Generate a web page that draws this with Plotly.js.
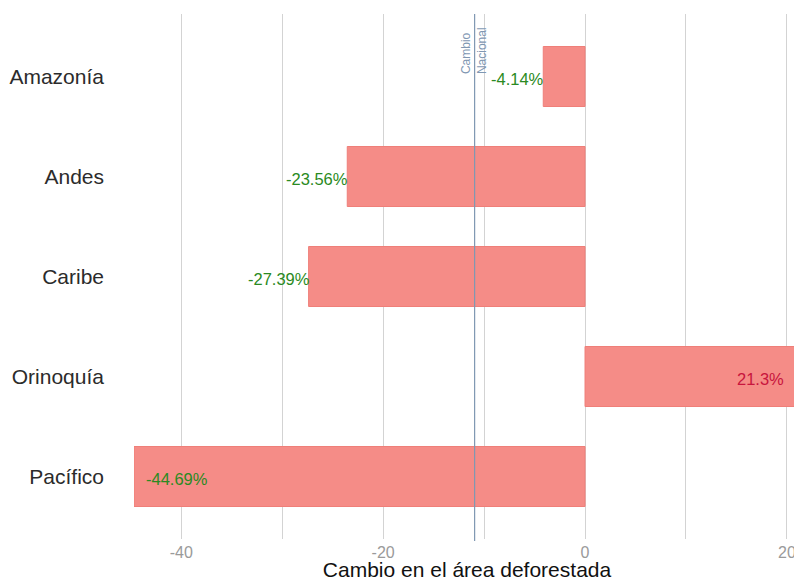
<!DOCTYPE html>
<html>
<head>
<meta charset="utf-8">
<script src="https://cdn.plot.ly/plotly-3.0.1.min.js"></script>
<style>
  html, body { margin: 0; padding: 0; overflow: hidden; background: #fff; }
  #chart { width: 800px; height: 581px; }
</style>
</head>
<body>
<div id="chart"></div>
<script>
// Regiones naturales y cambio porcentual del área deforestada
const regiones = ['Amazonía', 'Andes', 'Caribe', 'Orinoquía', 'Pacífico'];
const cambio = [-4.14, -23.56, -27.39, 21.3, -44.69];
const etiquetas = ['-4.14%', '-23.56%', '-27.39%', '21.3%', '-44.69%'];
const cambioNacional = -10.94;
const xTicks = [-40, -30, -20, -10, 0, 10, 20];
const xTickText = ['-40', '', '-20', '', '0', '', '20'];

const xMin = Math.min(...cambio);
const xMax = Math.max(...cambio);

const barras = {
  type: 'bar',
  orientation: 'h',
  x: cambio,
  y: regiones,
  width: 0.6,
  marker: { color: '#F58C87', line: { color: '#EF7F79', width: 1 } },
  hoverinfo: 'x+y',
  cliponaxis: true
};

// Etiquetas de valor: al final de cada barra, dentro de ella si toca el borde del eje
const anotaciones = cambio.map((v, i) => {
  const enBorde = (v === xMin || v === xMax);
  let anchor, shift;
  if (enBorde && v < 0) { anchor = 'left'; shift = 10; }
  else if (enBorde && v > 0) { anchor = 'right'; shift = -14; }
  else { anchor = 'right'; shift = 3; }
  return {
    x: v, y: regiones[i], xref: 'x', yref: 'y',
    text: etiquetas[i], showarrow: false,
    xanchor: anchor, xshift: shift, yshift: -2,
    font: { family: 'Liberation Sans, Arial, sans-serif', size: 16.5, color: v < 0 ? '#2A8A22' : '#C8153D' }
  };
});

anotaciones.push({
  x: cambioNacional, xref: 'x', y: 0.882, yref: 'paper',
  text: 'Cambio<br>Nacional', showarrow: false, textangle: -90,
  xanchor: 'center', yanchor: 'bottom', align: 'left',
  font: { family: 'Liberation Sans, Arial, sans-serif', size: 12, color: '#7F97B2' }
});

const layout = {
  width: 800,
  height: 581,
  margin: { l: 134, r: 0, t: 14, b: 42 },
  paper_bgcolor: '#ffffff',
  plot_bgcolor: '#ffffff',
  showlegend: false,
  bargap: 0.4,
  xaxis: {
    range: [xMin, xMax],
    tickvals: xTicks,
    ticktext: xTickText,
    showgrid: true,
    gridcolor: '#D3D3D3',
    gridwidth: 1,
    zeroline: false,
    showline: false,
    ticks: '',
    ticklabelstandoff: 2,
    tickfont: { family: 'Liberation Sans, Arial, sans-serif', size: 16, color: '#9A9A9A' },
    title: {
      text: 'Cambio en el área deforestada',
      font: { family: 'Liberation Sans, Arial, sans-serif', size: 21, color: '#111111' },
      standoff: 2
    },
    automargin: false,
    fixedrange: true
  },
  yaxis: {
    type: 'category',
    categoryorder: 'array',
    categoryarray: regiones,
    range: [4.625, -0.625],
    showgrid: false,
    zeroline: false,
    showline: false,
    ticks: '',
    ticklabelstandoff: 29,
    tickfont: { family: 'Liberation Sans, Arial, sans-serif', size: 21, color: '#2B2B2B' },
    automargin: false,
    fixedrange: true
  },
  shapes: [{
    type: 'line', xref: 'x', yref: 'paper',
    x0: cambioNacional, x1: cambioNacional, y0: -0.004, y1: 1,
    line: { color: '#7F97B2', width: 1.2 }
  }],
  annotations: anotaciones
};

Plotly.newPlot('chart', [barras], layout, { displayModeBar: false, staticPlot: true });
</script>
</body>
</html>
